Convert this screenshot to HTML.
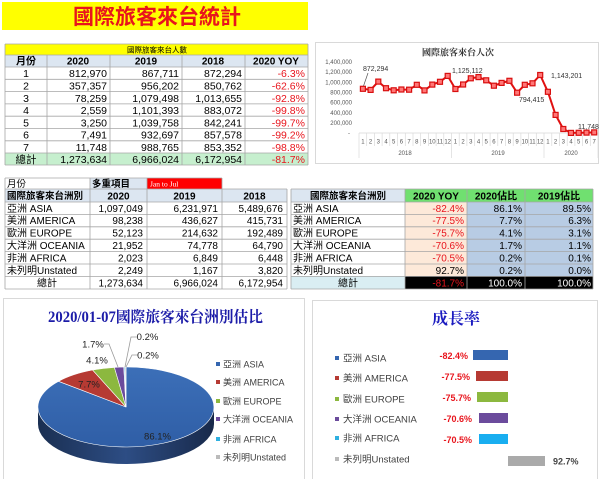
<!DOCTYPE html>
<html><head><meta charset="utf-8">
<style>
html,body{margin:0;padding:0;background:#fff;}
svg{display:block;}
.s{font-family:"Liberation Sans","Noto Sans CJK TC",sans-serif;}
.sf{font-family:"Liberation Serif","Noto Serif CJK SC",serif;}
.t1{font-size:10.5px;fill:#000;}
.hb{font-size:10px;font-weight:bold;fill:#000;}
.r{fill:#e8141c;}
.g{stroke:#a6a6a6;stroke-width:0.8;fill:none;}
.ax{font-size:6px;fill:#555;}
.lg{font-size:9px;fill:#404040;}
</style></head>
<body>
<svg width="600" height="479" viewBox="0 0 600 479" xmlns="http://www.w3.org/2000/svg">
<defs>
<linearGradient id="side" x1="0" x2="1" y1="0" y2="0">
<stop offset="0" stop-color="#1a2f52"/><stop offset="0.5" stop-color="#2d4d84"/><stop offset="1" stop-color="#18294a"/>
</linearGradient>
<linearGradient id="top" x1="0" x2="0" y1="0" y2="1">
<stop offset="0" stop-color="#3c6fb8"/><stop offset="1" stop-color="#2f5ea6"/>
</linearGradient>
</defs>
<rect width="600" height="479" fill="#fff"/>

<!-- Title -->
<rect x="2" y="2" width="306" height="28" fill="#ffff00"/>
<text class="s" x="157" y="24" text-anchor="middle" font-size="21" font-weight="bold" fill="#e8141c" textLength="168" lengthAdjust="spacingAndGlyphs">國際旅客來台統計</text>

<!-- Top-left table -->
<g class="s">
<rect x="5" y="44" width="303" height="11" fill="#ffff00"/>
<rect x="5" y="55" width="303" height="12" fill="#dce6f1"/>
<rect x="5" y="153" width="303" height="12" fill="#c6efce"/>
<path class="g" d="M5,44H308M5,55H308M5,67H308M5,79.3H308M5,91.6H308M5,103.9H308M5,116.2H308M5,128.5H308M5,140.8H308M5,153H308M5,165H308M5,44V165M308,44V165M47,55V165M110,55V165M182,55V165M245,55V165"/>
<text x="157" y="52.5" text-anchor="middle" font-size="7.5" fill="#000">國際旅客來台人數</text>
<text class="hb" x="26" y="64.5" text-anchor="middle">月份</text>
<text class="hb" x="78" y="64.5" text-anchor="middle">2020</text>
<text class="hb" x="146" y="64.5" text-anchor="middle">2019</text>
<text class="hb" x="213" y="64.5" text-anchor="middle">2018</text>
<text class="hb" x="276" y="64.5" text-anchor="middle">2020 YOY</text>
<g class="t1">
<text x="26" y="77.2" text-anchor="middle">1</text><text x="107" y="77.2" text-anchor="end">812,970</text><text x="179" y="77.2" text-anchor="end">867,711</text><text x="242" y="77.2" text-anchor="end">872,294</text><text class="r" x="305" y="77.2" text-anchor="end">-6.3%</text>
<text x="26" y="89.5" text-anchor="middle">2</text><text x="107" y="89.5" text-anchor="end">357,357</text><text x="179" y="89.5" text-anchor="end">956,202</text><text x="242" y="89.5" text-anchor="end">850,762</text><text class="r" x="305" y="89.5" text-anchor="end">-62.6%</text>
<text x="26" y="101.8" text-anchor="middle">3</text><text x="107" y="101.8" text-anchor="end">78,259</text><text x="179" y="101.8" text-anchor="end">1,079,498</text><text x="242" y="101.8" text-anchor="end">1,013,655</text><text class="r" x="305" y="101.8" text-anchor="end">-92.8%</text>
<text x="26" y="114.1" text-anchor="middle">4</text><text x="107" y="114.1" text-anchor="end">2,559</text><text x="179" y="114.1" text-anchor="end">1,101,393</text><text x="242" y="114.1" text-anchor="end">883,072</text><text class="r" x="305" y="114.1" text-anchor="end">-99.8%</text>
<text x="26" y="126.4" text-anchor="middle">5</text><text x="107" y="126.4" text-anchor="end">3,250</text><text x="179" y="126.4" text-anchor="end">1,039,758</text><text x="242" y="126.4" text-anchor="end">842,241</text><text class="r" x="305" y="126.4" text-anchor="end">-99.7%</text>
<text x="26" y="138.7" text-anchor="middle">6</text><text x="107" y="138.7" text-anchor="end">7,491</text><text x="179" y="138.7" text-anchor="end">932,697</text><text x="242" y="138.7" text-anchor="end">857,578</text><text class="r" x="305" y="138.7" text-anchor="end">-99.2%</text>
<text x="26" y="151" text-anchor="middle">7</text><text x="107" y="151" text-anchor="end">11,748</text><text x="179" y="151" text-anchor="end">988,765</text><text x="242" y="151" text-anchor="end">853,352</text><text class="r" x="305" y="151" text-anchor="end">-98.8%</text>
<text x="26" y="163" text-anchor="middle">總計</text><text x="107" y="163" text-anchor="end">1,273,634</text><text x="179" y="163" text-anchor="end">6,966,024</text><text x="242" y="163" text-anchor="end">6,172,954</text><text class="r" x="305" y="163" text-anchor="end">-81.7%</text>
</g>
</g>

<!-- Line chart -->
<rect x="315.5" y="42.5" width="283" height="121" fill="#fff" stroke="#d9d9d9"/>
<text class="sf" x="458" y="55.5" text-anchor="middle" font-size="9" font-weight="bold" fill="#333">國際旅客來台人次</text>
<g class="s ax" text-anchor="end">
<text x="352" y="64">1,400,000</text><text x="352" y="74">1,200,000</text><text x="352" y="84.5">1,000,000</text><text x="352" y="94.5">800,000</text><text x="352" y="104.5">600,000</text><text x="352" y="115">400,000</text><text x="352" y="125">200,000</text><text x="350" y="135">-</text>
</g>
<path d="M359,133H598" stroke="#d9d9d9" stroke-width="0.8"/>
<path d="M359,133V158M366.7,133V146M374.4,133V146M382.1,133V146M389.8,133V146M397.6,133V146M405.3,133V146M413,133V146M420.7,133V146M428.4,133V146M436.1,133V146M443.8,133V146M451.5,133V158M459.2,133V146M466.9,133V146M474.7,133V146M482.4,133V146M490.1,133V146M497.8,133V146M505.5,133V146M513.2,133V146M520.9,133V146M528.6,133V146M536.3,133V146M544,133V158M551.8,133V146M559.5,133V146M567.2,133V146M574.9,133V146M582.6,133V146M590.3,133V146M598,133V158" stroke="#d9d9d9" stroke-width="0.7"/>
<g class="s ax" text-anchor="middle" fill="#444">
<text x="362.9" y="143.5">1</text><text x="370.6" y="143.5">2</text><text x="378.3" y="143.5">3</text><text x="386" y="143.5">4</text><text x="393.7" y="143.5">5</text><text x="401.4" y="143.5">6</text><text x="409.1" y="143.5">7</text><text x="416.8" y="143.5">8</text><text x="424.5" y="143.5">9</text><text x="432.3" y="143.5">10</text><text x="440" y="143.5">11</text><text x="447.7" y="143.5">12</text>
<text x="455.4" y="143.5">1</text><text x="463.1" y="143.5">2</text><text x="470.8" y="143.5">3</text><text x="478.5" y="143.5">4</text><text x="486.2" y="143.5">5</text><text x="493.9" y="143.5">6</text><text x="501.6" y="143.5">7</text><text x="509.4" y="143.5">8</text><text x="517.1" y="143.5">9</text><text x="524.8" y="143.5">10</text><text x="532.5" y="143.5">11</text><text x="540.2" y="143.5">12</text>
<text x="547.9" y="143.5">1</text><text x="555.6" y="143.5">2</text><text x="563.3" y="143.5">3</text><text x="571" y="143.5">4</text><text x="578.7" y="143.5">5</text><text x="586.5" y="143.5">6</text><text x="594.2" y="143.5">7</text>
<text x="405" y="155">2018</text><text x="498" y="155">2019</text><text x="571" y="155">2020</text>
</g>
<polyline fill="none" stroke="#e01010" stroke-width="2" stroke-linejoin="round" points="362.9,88.8 370.6,89.9 378.3,81.6 386.0,88.2 393.7,90.3 401.4,89.5 409.1,89.7 416.8,84.8 424.5,90.4 432.3,84.6 440.0,81.8 447.7,75.9 455.4,89.0 463.1,84.5 470.8,78.3 478.5,77.1 486.2,80.3 493.9,85.7 501.6,82.9 509.4,80.8 517.1,92.7 524.8,84.8 532.5,83.3 540.2,75.0 547.9,91.8 555.6,114.9 563.3,129.0 571.0,132.9 578.7,132.8 586.5,132.6 594.2,132.4"/>
<g fill="#f77" stroke="#d80f0f" stroke-width="1.2">
<rect x="360.4" y="86.3" width="5" height="5"/><rect x="368.1" y="87.4" width="5" height="5"/><rect x="375.8" y="79.1" width="5" height="5"/><rect x="383.5" y="85.7" width="5" height="5"/><rect x="391.2" y="87.8" width="5" height="5"/><rect x="398.9" y="87.0" width="5" height="5"/><rect x="406.6" y="87.2" width="5" height="5"/><rect x="414.3" y="82.3" width="5" height="5"/><rect x="422.0" y="87.9" width="5" height="5"/><rect x="429.8" y="82.1" width="5" height="5"/><rect x="437.5" y="79.3" width="5" height="5"/><rect x="445.2" y="73.4" width="5" height="5"/><rect x="452.9" y="86.5" width="5" height="5"/><rect x="460.6" y="82.0" width="5" height="5"/><rect x="468.3" y="75.8" width="5" height="5"/><rect x="476.0" y="74.6" width="5" height="5"/><rect x="483.7" y="77.8" width="5" height="5"/><rect x="491.4" y="83.2" width="5" height="5"/><rect x="499.1" y="80.4" width="5" height="5"/><rect x="506.9" y="78.3" width="5" height="5"/><rect x="514.6" y="90.2" width="5" height="5"/><rect x="522.3" y="82.3" width="5" height="5"/><rect x="530.0" y="80.8" width="5" height="5"/><rect x="537.7" y="72.5" width="5" height="5"/><rect x="545.4" y="89.3" width="5" height="5"/><rect x="553.1" y="112.4" width="5" height="5"/><rect x="560.8" y="126.5" width="5" height="5"/><rect x="568.5" y="130.4" width="5" height="5"/><rect x="576.2" y="130.3" width="5" height="5"/><rect x="584.0" y="130.1" width="5" height="5"/><rect x="591.7" y="129.9" width="5" height="5"/>
</g>
<path d="M368,73L363.5,86" stroke="#555" stroke-width="0.7"/>
<g class="s" font-size="7" fill="#333">
<text x="363" y="71">872,294</text>
<text x="452" y="73">1,125,112</text>
<text x="519" y="102">794,415</text>
<text x="551" y="78">1,143,201</text>
<text x="578" y="129">11,748</text>
</g>

<!-- Middle-left table -->
<g class="s">
<rect x="90" y="178" width="57" height="11" fill="#dce6f1"/>
<rect x="147" y="178" width="75" height="11" fill="#ff0000"/>
<rect x="5" y="189" width="282" height="13" fill="#dce6f1"/>
<path class="g" d="M5,178H222M5,189H287M5,202H287M5,214.4H287M5,226.8H287M5,239.2H287M5,251.6H287M5,264H287M5,276.4H287M5,289H287M5,178V289M90,178V289M147,178V289M222,178V289M287,189V289"/>
<text x="7" y="187" font-size="9.5" fill="#000">月份</text>
<text x="92" y="187" font-size="9.5" font-weight="bold" fill="#000">多重項目</text>
<text class="sf" x="150" y="186.5" font-size="7.5" fill="#fff">Jan to Jul</text>
<text x="7" y="199" font-size="9.5" font-weight="bold" fill="#000">國際旅客來台洲別</text>
<text class="hb" x="118.5" y="199.5" text-anchor="middle">2020</text>
<text class="hb" x="184.5" y="199.5" text-anchor="middle">2019</text>
<text class="hb" x="254.5" y="199.5" text-anchor="middle">2018</text>
<g font-size="10" fill="#000">
<text x="7" y="211.8">亞洲 ASIA</text><text x="143" y="211.8" text-anchor="end">1,097,049</text><text x="218" y="211.8" text-anchor="end">6,231,971</text><text x="283" y="211.8" text-anchor="end">5,489,676</text>
<text x="7" y="224.2">美洲 AMERICA</text><text x="143" y="224.2" text-anchor="end">98,238</text><text x="218" y="224.2" text-anchor="end">436,627</text><text x="283" y="224.2" text-anchor="end">415,731</text>
<text x="7" y="236.6">歐洲 EUROPE</text><text x="143" y="236.6" text-anchor="end">52,123</text><text x="218" y="236.6" text-anchor="end">214,632</text><text x="283" y="236.6" text-anchor="end">192,489</text>
<text x="7" y="249">大洋洲 OCEANIA</text><text x="143" y="249" text-anchor="end">21,952</text><text x="218" y="249" text-anchor="end">74,778</text><text x="283" y="249" text-anchor="end">64,790</text>
<text x="7" y="261.4">非洲 AFRICA</text><text x="143" y="261.4" text-anchor="end">2,023</text><text x="218" y="261.4" text-anchor="end">6,849</text><text x="283" y="261.4" text-anchor="end">6,448</text>
<text x="7" y="273.8">未列明Unstated</text><text x="143" y="273.8" text-anchor="end">2,249</text><text x="218" y="273.8" text-anchor="end">1,167</text><text x="283" y="273.8" text-anchor="end">3,820</text>
<text x="47" y="286.3" text-anchor="middle">總計</text><text x="143" y="286.3" text-anchor="end">1,273,634</text><text x="218" y="286.3" text-anchor="end">6,966,024</text><text x="283" y="286.3" text-anchor="end">6,172,954</text>
</g>
</g>

<!-- Middle-right table -->
<g class="s">
<rect x="291" y="189" width="114" height="13" fill="#dce6f1"/>
<rect x="405" y="189" width="188" height="13" fill="#70e070"/>
<rect x="405" y="202" width="62" height="74.4" fill="#fde9d9"/>
<rect x="467" y="202" width="126" height="74.4" fill="#b8cce4"/>
<rect x="291" y="276.4" width="114" height="12.6" fill="#daeef3"/>
<rect x="405" y="276.4" width="188" height="12.6" fill="#000"/>
<path class="g" d="M291,189H593M291,202H593M291,214.4H593M291,226.8H593M291,239.2H593M291,251.6H593M291,264H593M291,276.4H593M291,289H593M291,189V289M405,189V289M467,189V289M525,189V289M593,189V289"/>
<text x="348" y="199" text-anchor="middle" font-size="9.5" font-weight="bold" fill="#000">國際旅客來台洲別</text>
<text x="436" y="199.5" text-anchor="middle" font-size="10" font-weight="bold" fill="#000">2020 YOY</text>
<text x="496" y="199.5" text-anchor="middle" font-size="10" font-weight="bold" fill="#000">2020佔比</text>
<text x="559" y="199.5" text-anchor="middle" font-size="10" font-weight="bold" fill="#000">2019佔比</text>
<g font-size="10" fill="#000">
<text x="293" y="211.8">亞洲 ASIA</text><text class="r" x="464" y="211.8" text-anchor="end">-82.4%</text><text x="522" y="211.8" text-anchor="end">86.1%</text><text x="591" y="211.8" text-anchor="end">89.5%</text>
<text x="293" y="224.2">美洲 AMERICA</text><text class="r" x="464" y="224.2" text-anchor="end">-77.5%</text><text x="522" y="224.2" text-anchor="end">7.7%</text><text x="591" y="224.2" text-anchor="end">6.3%</text>
<text x="293" y="236.6">歐洲 EUROPE</text><text class="r" x="464" y="236.6" text-anchor="end">-75.7%</text><text x="522" y="236.6" text-anchor="end">4.1%</text><text x="591" y="236.6" text-anchor="end">3.1%</text>
<text x="293" y="249">大洋洲 OCEANIA</text><text class="r" x="464" y="249" text-anchor="end">-70.6%</text><text x="522" y="249" text-anchor="end">1.7%</text><text x="591" y="249" text-anchor="end">1.1%</text>
<text x="293" y="261.4">非洲 AFRICA</text><text class="r" x="464" y="261.4" text-anchor="end">-70.5%</text><text x="522" y="261.4" text-anchor="end">0.2%</text><text x="591" y="261.4" text-anchor="end">0.1%</text>
<text x="293" y="273.8">未列明Unstated</text><text x="464" y="273.8" text-anchor="end">92.7%</text><text x="522" y="273.8" text-anchor="end">0.2%</text><text x="591" y="273.8" text-anchor="end">0.0%</text>
<text x="348" y="286.3" text-anchor="middle">總計</text><text class="r" x="464" y="286.3" text-anchor="end">-81.7%</text><text x="522" y="286.3" text-anchor="end" fill="#fff">100.0%</text><text x="591" y="286.3" text-anchor="end" fill="#fff">100.0%</text>
</g>
</g>

<!-- Pie panel -->
<rect x="3.5" y="298.5" width="301" height="190" fill="#fff" stroke="#d9d9d9"/>
<text class="sf" x="155.5" y="322" text-anchor="middle" font-size="15.5" font-weight="bold" fill="#1c1ca8" textLength="215" lengthAdjust="spacingAndGlyphs">2020/01-07國際旅客來台洲別估比</text>
<path d="M38,407A88,40 0 0 0 214,407L214,424A88,40 0 0 1 38,424Z" fill="url(#side)"/>
<g stroke="#fff" stroke-width="0.6">
<path d="M126,407L126,367A88,40 0 1 1 58.5,381.3Z" fill="url(#top)"/>
<path d="M126,407L58.5,381.3A88,40 0 0 1 92.6,370Z" fill="#b63a33"/>
<path d="M126,407L92.6,370A88,40 0 0 1 114.4,367.4Z" fill="#8cb83f"/>
<path d="M126,407L114.4,367.4A88,40 0 0 1 123.8,367Z" fill="#6b4b9c"/>
<path d="M126,407L123.8,367A88,40 0 0 1 124.9,367Z" fill="#2fb0e0"/>
<path d="M126,407L124.9,367A88,40 0 0 1 126,367Z" fill="#bbb"/>
</g>
<path d="M104,344H109L118,367M137,337H131L125,367M138,355H132L126,367" fill="none" stroke="#9a9a9a" stroke-width="0.8"/>
<g class="s" font-size="9.5" text-anchor="middle" fill="#222">
<text x="157.5" y="439.5">86.1%</text>
<text x="89" y="387.5">7.7%</text>
<text x="97" y="363.5">4.1%</text>
<text x="93" y="347.5">1.7%</text>
<text x="147.5" y="340">0.2%</text>
<text x="148" y="358.5">0.2%</text>
</g>
<g class="s lg">
<rect x="216" y="362" width="4" height="4" fill="#3566b0"/><text x="223" y="367.5">亞洲 ASIA</text>
<rect x="216" y="380" width="4" height="4" fill="#b63a33"/><text x="223" y="385.5">美洲 AMERICA</text>
<rect x="216" y="399" width="4" height="4" fill="#8cb83f"/><text x="223" y="404.5">歐洲 EUROPE</text>
<rect x="216" y="417" width="4" height="4" fill="#6b4b9c"/><text x="223" y="422.5">大洋洲 OCEANIA</text>
<rect x="216" y="437" width="4" height="4" fill="#2fb0e0"/><text x="223" y="442.5">非洲 AFRICA</text>
<rect x="216" y="455" width="4" height="4" fill="#bbb"/><text x="223" y="460.5">未列明Unstated</text>
</g>

<!-- Growth panel -->
<rect x="312.5" y="300.5" width="285" height="190" fill="#fff" stroke="#d9d9d9"/>
<text class="sf" x="456" y="324" text-anchor="middle" font-size="16" font-weight="bold" fill="#1c1cc0">成長率</text>
<g class="s" font-size="9.5" fill="#404040">
<rect x="335" y="356" width="4" height="4" fill="#3566b0"/><text x="343" y="361.5">亞洲 ASIA</text>
<rect x="335" y="376" width="4" height="4" fill="#b63a33"/><text x="343" y="381.5">美洲 AMERICA</text>
<rect x="335" y="397" width="4" height="4" fill="#8cb83f"/><text x="343" y="402.5">歐洲 EUROPE</text>
<rect x="335" y="417" width="4" height="4" fill="#6b4b9c"/><text x="343" y="422.5">大洋洲 OCEANIA</text>
<rect x="335" y="436" width="4" height="4" fill="#2fb0e0"/><text x="343" y="441.5">非洲 AFRICA</text>
<rect x="335" y="457" width="4" height="4" fill="#bbb"/><text x="343" y="462.5">未列明Unstated</text>
</g>
<rect x="473" y="350" width="35" height="10" fill="#3566b0"/>
<rect x="476" y="371" width="32" height="10" fill="#b63a33"/>
<rect x="477" y="392" width="31" height="10" fill="#8cb83f"/>
<rect x="479" y="413" width="29" height="10" fill="#6b4b9c"/>
<rect x="479" y="434" width="29" height="10" fill="#19aef0"/>
<rect x="508" y="456" width="37" height="10" fill="#aaa"/>
<g class="s" font-size="9" font-weight="bold" fill="#e8141c" text-anchor="end">
<text x="468" y="359">-82.4%</text>
<text x="470" y="380">-77.5%</text>
<text x="471" y="401">-75.7%</text>
<text x="472" y="422">-70.6%</text>
<text x="472" y="443">-70.5%</text>
</g>
<text class="s" x="553" y="464.5" font-size="9" font-weight="bold" fill="#444">92.7%</text>
</svg>
</body></html>
